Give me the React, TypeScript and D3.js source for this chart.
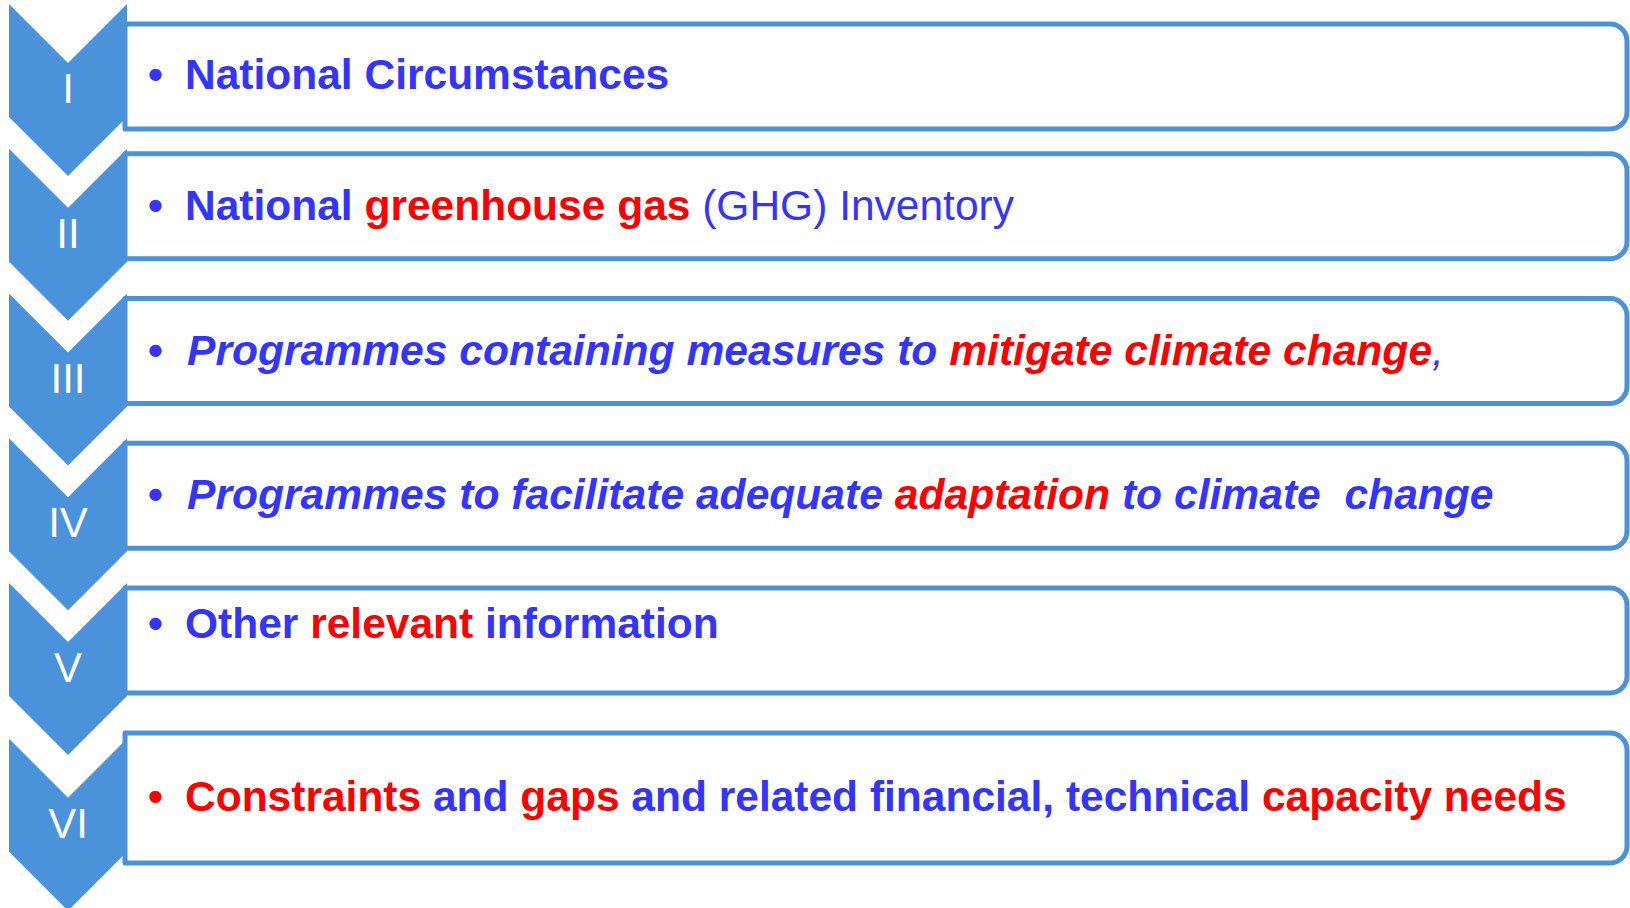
import { useEffect, useRef } from 'react';
import * as d3 from 'd3';

// Roman numerals shown in the chevrons
const numerals = ['I', 'II', 'III', 'IV', 'V', 'VI'];

// Text runs per item: [text, tone]  tone: 'b' = blue bold, 'r' = red bold, 'n' = blue plain
const items: [string, string][][] = [
  [['National Circumstances', 'b']],
  [['National ', 'b'], ['greenhouse gas', 'r'], [' (GHG) Inventory', 'n']],
  [['Programmes containing measures to ', 'b'], ['mitigate climate change', 'r'], [',', 'n']],
  [['Programmes to facilitate adequate ', 'b'], ['adaptation', 'r'], [' to climate  change', 'b']],
  [['Other ', 'b'], ['relevant', 'r'], [' information', 'b']],
  [['Constraints', 'r'], [' and ', 'b'], ['gaps', 'r'], [' and related financial, technical ', 'b'], ['capacity needs', 'r']],
];
const italicItems = [false, false, true, true, false, false];
const bulletTones = ['b', 'b', 'b', 'b', 'b', 'r'];

const W = 1630;
const H = 908;
const ACCENT = '#4a93da';
const BLUE = '#3434ff';
const RED = '#ff0000';
const FONT = '"Liberation Sans", Arial, sans-serif';

export default function App() {
  const svgRef = useRef<SVGSVGElement>(null);

  useEffect(() => {
    if (!svgRef.current) return;
    const svg = d3.select(svgRef.current);
    svg.selectAll('*').remove();

    // row positions (the last row sits a bit lower)
    const rowY = d3.scaleLinear().domain([0, 4]).range([4, 583]);
    const chevTop = (i: number) => rowY(i) + (i === 5 ? 11 : 0);
    const boxTop = (i: number) => (i === 0 ? 24 : i === 5 ? 733 : chevTop(i) + 5);
    const boxH = (i: number) => (i === 5 ? 130 : 105);
    const baseOff = (i: number) => (i === 0 ? 65 : i === 4 ? 50 : i === 5 ? 78 : 66);

    const chevL = 9;
    const chevR = 127;
    const half = (chevR - chevL) / 2;
    const boxL = 125;
    const boxR = 1627;
    const rad = 17;

    const toneColor = (t: string) => (t === 'r' ? RED : BLUE);

    // boxes
    svg.append('g')
      .selectAll('path')
      .data(items)
      .join('path')
      .attr('d', (_, i) => {
        const t = boxTop(i);
        const b = t + boxH(i);
        const p = d3.path();
        p.moveTo(boxL, t);
        p.lineTo(boxR - rad, t);
        p.arcTo(boxR, t, boxR, t + rad, rad);
        p.lineTo(boxR, b - rad);
        p.arcTo(boxR, b, boxR - rad, b, rad);
        p.lineTo(boxL, b);
        p.closePath();
        return p.toString();
      })
      .attr('fill', '#fff')
      .attr('stroke', ACCENT)
      .attr('stroke-width', 5)
      .attr('stroke-linejoin', 'round');

    // chevrons
    const chev = svg.append('g')
      .selectAll('g')
      .data(numerals)
      .join('g');

    chev.append('path')
      .attr('d', (_, i) => {
        const t = chevTop(i);
        const cx = chevL + half;
        const p = d3.path();
        p.moveTo(chevL, t);
        p.lineTo(cx, t + half);
        p.lineTo(chevR, t);
        p.lineTo(chevR, t + 113);
        p.lineTo(cx, t + 113 + half);
        p.lineTo(chevL, t + 113);
        p.closePath();
        return p.toString();
      })
      .attr('fill', ACCENT);

    chev.append('text')
      .attr('x', chevL + half)
      .attr('y', (_, i) => chevTop(i) + 99)
      .attr('text-anchor', 'middle')
      .attr('fill', '#fff')
      .style('font-family', FONT)
      .style('font-size', '42px')
      .text(d => d);

    // item texts
    const lines = svg.append('g')
      .selectAll('g')
      .data(items)
      .join('g');

    lines.append('text')
      .attr('x', 148)
      .attr('y', (_, i) => boxTop(i) + baseOff(i))
      .attr('fill', (_, i) => toneColor(bulletTones[i]))
      .style('font-family', FONT)
      .style('font-size', '42.5px')
      .style('font-weight', 'bold')
      .text('\u2022');

    const txt = lines.append('text')
      .attr('x', (_, i) => (italicItems[i] ? 187 : 185))
      .attr('y', (_, i) => boxTop(i) + baseOff(i))
      .style('font-family', FONT)
      .style('font-size', (_, i) => (italicItems[i] ? '42.6px' : '42.5px'))
      .style('white-space', 'pre')
      .style('font-style', (_, i) => (italicItems[i] ? 'italic' : 'normal'));

    txt.selectAll('tspan')
      .data(d => d)
      .join('tspan')
      .attr('fill', d => toneColor(d[1]))
      .style('font-weight', d => (d[1] === 'n' ? 'normal' : 'bold'))
      .text(d => d[0]);
  }, []);

  return (
    <svg
      ref={svgRef}
      width={W}
      height={H}
      style={{ position: 'absolute', left: 0, top: 0, background: '#fff' }}
    />
  );
}
